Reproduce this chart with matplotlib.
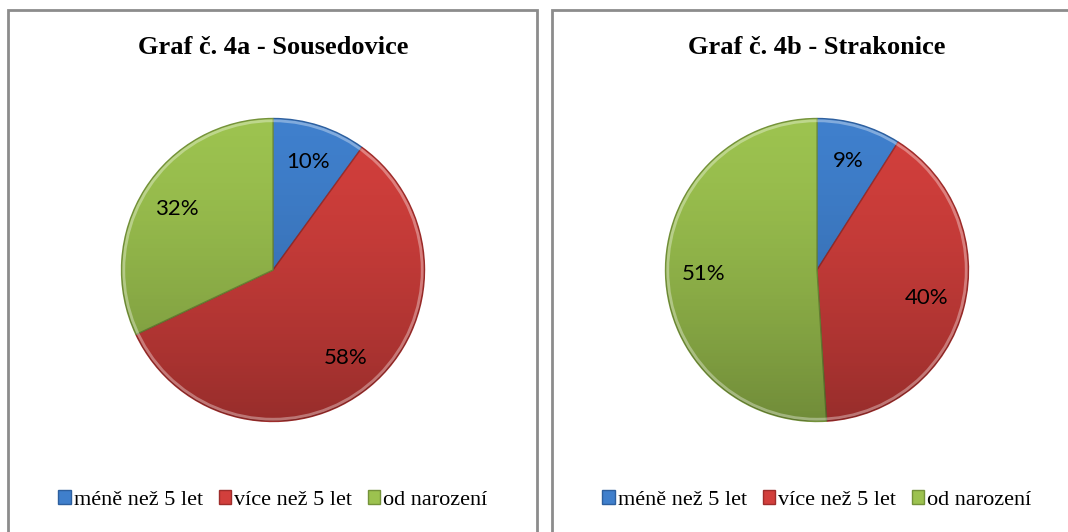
import matplotlib.pyplot as plt
import numpy as np
from matplotlib.patches import Rectangle, Circle

categories = ["méně než 5 let", "více než 5 let", "od narození"]
titles = ["Graf č. 4a - Sousedovice", "Graf č. 4b - Strakonice"]
sousedovice = [10, 58, 32]
strakonice = [9, 40, 51]
colors = ["#3f7fcc", "#d23f3c", "#9cc24f"]
edges = ["#2d5f9e", "#9e2d2b", "#74923a"]

W, H = 1068, 532
fig = plt.figure(figsize=(W / 100, H / 100), dpi=100)


def px(x, y, w, h):
    # pixel box (top-left origin) -> figure fraction
    return [x / W, (H - y - h) / H, w / W, h / H]


# panel borders (cut off at bottom / right like the source)
for x0, x1 in [(8, 537), (552, 1090)]:
    fig.patches.append(Rectangle((x0 / W, -0.1), (x1 - x0) / W, (H - 10) / H + 0.1,
                                 transform=fig.transFigure, fill=False,
                                 edgecolor="#8c8c8c", linewidth=2))

# vertical gradient used as shading overlay on the pies
yy = np.linspace(0, 1, 200)[:, None] * np.ones((1, 200))
shade = np.zeros((200, 200, 4))
shade[..., 3] = 0.28 * yy ** 1.5

for i, (vals, title) in enumerate(zip([sousedovice, strakonice], titles)):
    cx = 273 if i == 0 else 817
    r = 153
    ax = fig.add_axes(px(cx - r, 270 - r, 2 * r, 2 * r))
    wedges, _, autotexts = ax.pie(
        vals, colors=colors, startangle=90, counterclock=False,
        autopct="%d%%", pctdistance=0.75, radius=1,
        wedgeprops=dict(linewidth=1.0),
        textprops=dict(fontsize=16, family="Lato", color="black"))
    for w, ec in zip(wedges, edges):
        w.set_edgecolor(ec)
    im = ax.imshow(shade, extent=[-1, 1, -1, 1], zorder=3, origin="upper")
    im.set_clip_path(Circle((0, 0), 1, transform=ax.transData))
    ax.add_patch(Circle((0, 0), 0.985, fill=False, edgecolor="white",
                        alpha=0.35, linewidth=2, zorder=4))
    for t in autotexts:
        t.set_zorder(5)
    ax.set_xlim(-1.01, 1.01)
    ax.set_ylim(-1.01, 1.01)
    ax.set_aspect("equal")
    ax.axis("off")

    fig.text(cx / W, 1 - 48 / H, title, ha="center", va="center",
             fontsize=19, fontweight="bold", family="Liberation Serif")

    handles = [Rectangle((0, 0), 1, 1, facecolor=c, edgecolor=e)
               for c, e in zip(colors, edges)]
    fig.legend(handles, categories, loc="center", bbox_to_anchor=(cx / W, 1 - 500 / H),
               ncol=3, frameon=False, prop=dict(family="Liberation Serif", size=16),
               handlelength=0.55, handleheight=0.55, handletextpad=0.15,
               columnspacing=0.7, borderpad=0)

fig.savefig("out.png", dpi=100, facecolor="white")
